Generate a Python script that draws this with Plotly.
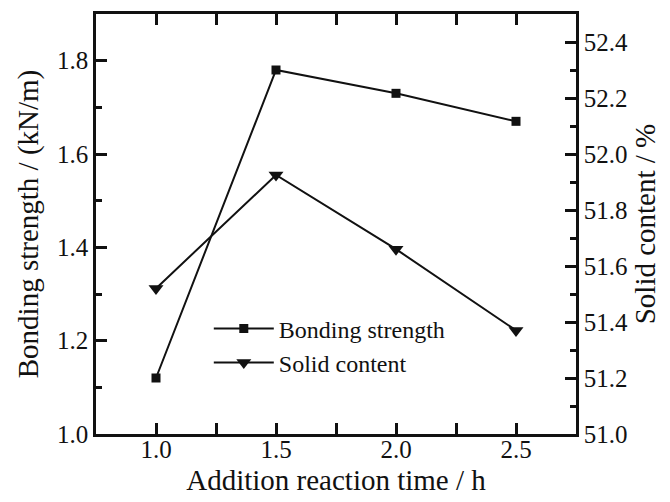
import plotly.graph_objects as go

time_h = [1.0, 1.5, 2.0, 2.5]
bonding_strength = [1.12, 1.78, 1.73, 1.67]
solid_content = [51.52, 51.925, 51.66, 51.37]

# tick steps (major, minor) for x, left y, right y
x_step, x_minor = 0.5, 0.25
y_step, y_minor = 0.2, 0.1
y2_step, y2_minor = 0.2, 0.1

FONT = "Liberation Serif"
INK = "#111111"
TICK_SIZE = 25
TITLE_SIZE = 29

fig = go.Figure()
fig.add_trace(go.Scatter(
    x=time_h, y=bonding_strength, name="Bonding strength",
    mode="lines+markers",
    line=dict(color=INK, width=2),
    marker=dict(symbol="square", size=9, color=INK),
))
fig.add_trace(go.Scatter(
    x=time_h, y=solid_content, name="Solid content", yaxis="y2",
    mode="lines+markers",
    line=dict(color=INK, width=2),
    marker=dict(symbol="triangle-down", size=13, color=INK),
))

axis_common = dict(
    showgrid=False, zeroline=False, showline=True, linecolor=INK, linewidth=2.5,
    ticks="inside", ticklen=11, tickwidth=2.5, tickcolor=INK,
    tickfont=dict(family=FONT, size=TICK_SIZE, color=INK),
    tickformat=".1f", tickmode="linear",
    automargin=False,
)
minor_common = dict(ticks="inside", ticklen=6, tickwidth=2.5, tickcolor=INK, tickmode="linear")

fig.update_layout(
    width=670, height=502,
    margin=dict(l=96, r=94, t=14, b=68),
    plot_bgcolor="white", paper_bgcolor="white",
    font=dict(family=FONT, color=INK),
    xaxis=dict(
        **axis_common, range=[0.75, 2.75], tick0=1.0, dtick=x_step, mirror="allticks",
        minor=dict(**minor_common, dtick=x_minor, tick0=0.75),
        ticklabelstandoff=-9,
        title=dict(text="Addition reaction time / h", font=dict(family=FONT, size=TITLE_SIZE, color=INK), standoff=8),
    ),
    yaxis=dict(
        **axis_common, range=[1.0, 1.9], tick0=1.0, dtick=y_step,
        minor=dict(**minor_common, dtick=y_minor, tick0=1.0),
        title=dict(text="Bonding strength / (kN/m)", font=dict(family=FONT, size=TITLE_SIZE, color=INK), standoff=10),
    ),
    yaxis2=dict(
        **axis_common, range=[51.0, 52.5], overlaying="y", side="right",
        tick0=51.0, dtick=y2_step,
        minor=dict(**minor_common, dtick=y2_minor, tick0=51.0),
        title=dict(text="Solid content / %", font=dict(family=FONT, size=TITLE_SIZE, color=INK), standoff=8),
    ),
    legend=dict(
        x=0.235, y=0.304, xanchor="left", yanchor="top",
        bgcolor="rgba(0,0,0,0)", font=dict(family=FONT, size=TICK_SIZE - 1, color=INK),
        itemwidth=60, tracegroupgap=0,
    ),
    showlegend=True,
)

fig.write_html("out.html")
